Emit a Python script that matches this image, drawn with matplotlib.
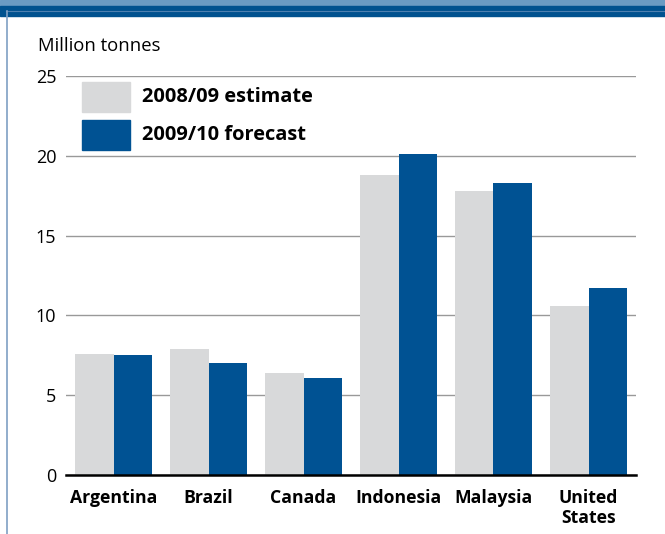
import matplotlib.pyplot as plt
import matplotlib.patches as mpatches
from matplotlib.lines import Line2D
import numpy as np

countries = ['Argentina', 'Brazil', 'Canada', 'Indonesia', 'Malaysia', 'United\nStates']
estimate_0809 = [7.6, 7.9, 6.4, 18.8, 17.8, 10.6]
forecast_0910 = [7.5, 7.0, 6.1, 20.1, 18.3, 11.7]
series_labels = ['2008/09 estimate', '2009/10 forecast']

GREY = '#d8d9da'
BLUE = '#005293'

plt.rcParams['font.family'] = ['Open Sans', 'DejaVu Sans']

fig = plt.figure(figsize=(6.65, 5.34), dpi=100)

# header band and left frame line
fig.patches.append(mpatches.Rectangle((0, 1 - 6 / 534), 1, 6 / 534, transform=fig.transFigure,
                                      color='#6a9bc3', zorder=0))
fig.patches.append(mpatches.Rectangle((0, 1 - 16 / 534), 1, 10 / 534, transform=fig.transFigure,
                                      color='#00528f', zorder=0))
fig.lines.append(Line2D([6 / 665, 1], [1 - 10.5 / 534, 1 - 10.5 / 534], transform=fig.transFigure,
                        color='#4d80b0', lw=0.8))
fig.lines.append(Line2D([7 / 665, 7 / 665], [0, 1 - 11 / 534], transform=fig.transFigure,
                        color='#7fa0c4', lw=1.2))

ax = fig.add_axes([66 / 665, 1 - 475 / 534, 570 / 665, 399 / 534])

x = np.arange(len(countries))
w = 0.405
ax.bar(x - w / 2, estimate_0809, w, color=GREY, zorder=2)
ax.bar(x + w / 2, forecast_0910, w, color=BLUE, zorder=2)

ax.set_xlim(-0.5, len(countries) - 0.5)
ax.set_ylim(0, 25)
ax.set_yticks([0, 5, 10, 15, 20, 25])
ax.set_xticks(x)
ax.set_xticklabels(countries, fontsize=12.7, fontweight='bold', va='top', linespacing=1.15)
ax.tick_params(axis='y', length=0, labelsize=13, pad=7)
ax.tick_params(axis='x', length=0, pad=10)

ax.yaxis.grid(True, color='#999999', lw=1.0, zorder=0)
for s in ['top', 'right', 'left']:
    ax.spines[s].set_visible(False)
ax.spines['bottom'].set_color('black')
ax.spines['bottom'].set_linewidth(1.8)
ax.spines['bottom'].set_zorder(3)

# legend drawn by hand so the swatches keep their size
for i, (lab, col) in enumerate(zip(series_labels, [GREY, BLUE])):
    y0 = 0.9098 - i * 0.0953
    ax.add_patch(mpatches.Rectangle((16 / 570, y0), 48 / 570, 30 / 399, transform=ax.transAxes,
                                    color=col, zorder=4, clip_on=False))
    ax.text(76 / 570, y0 + 15 / 399, lab, transform=ax.transAxes, fontsize=14.4,
            fontweight='bold', va='center', ha='left', zorder=4)

fig.text(38 / 665, 1 - 46 / 534, 'Million tonnes', fontsize=13.3, va='center', ha='left')

fig.savefig('out.png', dpi=100)
